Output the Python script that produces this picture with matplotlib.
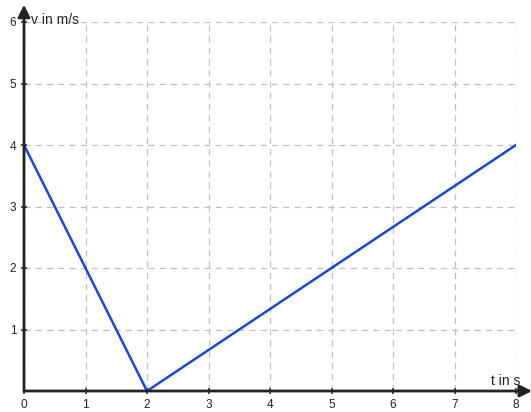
import matplotlib.pyplot as plt

plt.rcParams['font.family'] = ['Liberation Sans', 'DejaVu Sans']

t = [0, 2, 8]
v = [4, 0, 4]
x_ticks = [0, 1, 2, 3, 4, 5, 6, 7, 8]
y_ticks = [1, 2, 3, 4, 5, 6]

fig = plt.figure(figsize=(5.31, 4.12), dpi=100)
ax = fig.add_axes([24 / 531, 21 / 412, 492 / 531, 369 / 412])
ax.set_xlim(0, 8)
ax.set_ylim(0, 6)

for s in ax.spines.values():
    s.set_visible(False)

ax.set_xticks(x_ticks)
ax.set_yticks(y_ticks)
ax.tick_params(axis='both', direction='inout', length=5, width=1.2,
               color='#333333', labelsize=8.5, labelcolor='#222222', pad=3)
ax.grid(True, color='#c0c0c0', linestyle=(0, (5, 4)), linewidth=0.9)

ax.plot(t, v, color='#1c47d6', linewidth=1.8, zorder=3)

# axes drawn as arrows
arrow = dict(arrowstyle='-|>', color='#222222', lw=2, mutation_scale=18,
             shrinkA=0, shrinkB=0)
ax.annotate('', xy=(8.26, 0), xytext=(0, 0), arrowprops=arrow,
            annotation_clip=False, zorder=4)
ax.annotate('', xy=(0, 6.28), xytext=(0, 0), arrowprops=arrow,
            annotation_clip=False, zorder=4)

ax.text(0.12, 6.04, 'v in m/s', fontsize=10, color='#222222',
        ha='left', va='center')
ax.text(8.07, 0.17, 't in s', fontsize=10, color='#222222',
        ha='right', va='center')

fig.savefig('out.png', dpi=100)
